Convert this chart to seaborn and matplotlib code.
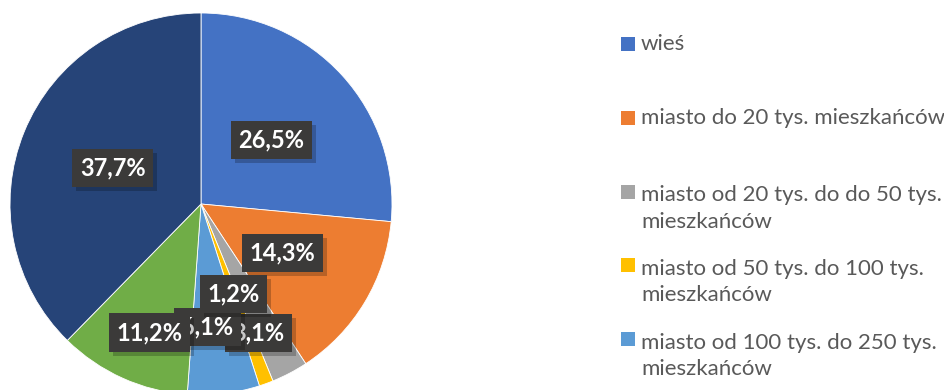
import numpy as np
import matplotlib
matplotlib.use("Agg")
import matplotlib.pyplot as plt
import matplotlib.patheffects as pe
from matplotlib.patches import Rectangle
import seaborn as sns

# Place of residence of respondents (share in %)
categories = [
    "wieś",
    "miasto do 20 tys. mieszkańców",
    "miasto od 20 tys. do do 50 tys.\nmieszkańców",
    "miasto od 50 tys. do 100 tys.\nmieszkańców",
    "miasto od 100 tys. do 250 tys.\nmieszkańców",
    "miasto od 250 tys. do 500 tys.\nmieszkańców",
    "miasto powyżej 500 tys.\nmieszkańców",
]
shares = [26.5, 14.3, 3.1, 1.2, 6.1, 11.2, 37.7]
colors = ["#4472C4", "#ED7D31", "#A5A5A5", "#FFC000", "#5B9BD5", "#70AD47", "#264478"]

# label layout: radial distance (fraction of radius), angular nudge (deg), stacking order
label_radius = [0.50, 0.50, 0.74, 0.50, 0.645, 0.725, 0.50]
label_nudge = [0, 0, -3.7, 0, -3.8, 2.4, 0]
label_z = [5, 5, 5, 7, 6, 7, 5]

sns.set_theme(style="white")
plt.rcParams["font.family"] = ["Lato", "DejaVu Sans"]

W, H = 944, 390
fig = plt.figure(figsize=(W / 100, H / 100), dpi=100)
fig.patch.set_facecolor("white")

cx, cy, R = 201, 204, 191  # pie centre and radius in pixels (from top-left)
ax = fig.add_axes([(cx - R) / W, (H - cy - R) / H, 2 * R / W, 2 * R / H])

wedges, _ = ax.pie(
    shares,
    colors=colors,
    startangle=90,
    counterclock=False,
    radius=1,
    wedgeprops=dict(edgecolor="white", linewidth=0.6),
)
ax.set_xlim(-1, 1)
ax.set_ylim(-1, 1)
ax.set_aspect("equal")
ax.axis("off")

for w, v, r, dn, z in zip(wedges, shares, label_radius, label_nudge, label_z):
    mid = np.deg2rad((w.theta1 + w.theta2) / 2 + dn)
    x, y = r * np.cos(mid), r * np.sin(mid)
    txt = f"{v:.1f}%".replace(".", ",")
    t = ax.text(x, y, txt, ha="center", va="center", fontsize=17, fontweight="bold",
                color="white", zorder=z,
                bbox=dict(boxstyle="square,pad=0.32", fc="#3b3a39", ec="none"))
    t.get_bbox_patch().set_path_effects([
        pe.SimplePatchShadow(offset=(3, -3), shadow_rgbFace="black", alpha=0.22),
        pe.Normal(),
    ])

# legend entries on a fixed pitch, continuing below the visible area
first_line_y = 44
pitch = 73.8
line_gap = 30
for i, (cat, col) in enumerate(zip(categories, colors)):
    yc = first_line_y + pitch * i
    if yc > H:
        break
    n_extra = cat.count("\n")
    fig.patches.append(Rectangle((621 / W, 1 - (yc + 7) / H), 14 / W, 14 / H,
                                 transform=fig.transFigure, facecolor=col,
                                 edgecolor="none", figure=fig))
    fig.text(641 / W, 1 - (yc + 6 + line_gap * n_extra) / H, cat, ha="left",
             va="baseline", fontsize=16, color="#595959", linespacing=1.39)

fig.savefig("out.png", dpi=100)
